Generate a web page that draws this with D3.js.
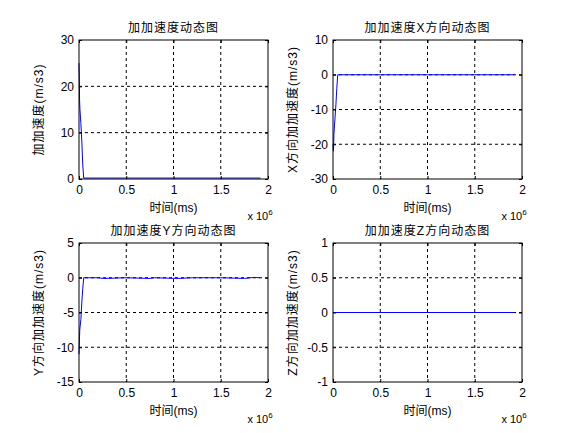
<!DOCTYPE html>
<html><head><meta charset="utf-8">
<script src="https://cdn.jsdelivr.net/npm/d3@7"></script>
<style>body{margin:0;background:#fff}text{font-family:"Liberation Sans",Arial,"Noto Sans CJK SC",sans-serif}</style>
</head><body><div id="chart"></div>
<script>
// time in units of 1e6 ms
const jerkTotal = [[0,25],[0.003,22],[0.006,17],[0.01,15],[0.02,12],[0.03,8],[0.04,3],[0.05,0.2],[0.5,0.2],[1,0.2],[1.5,0.2],[1.92,0.2]];
const jerkX = [[0,-20],[0.005,-22],[0.01,-17],[0.02,-13],[0.03,-9],[0.04,-4],[0.05,0],[0.5,0],[1,0],[1.5,0],[1.92,0]];
const jerkY = [[0,-11],[0.008,-7.5],[0.02,-6],[0.03,-3.5],[0.04,-1.5],[0.05,0],[0.2,0],[0.26,-0.1],[0.5,0],[0.75,-0.1],[0.8,0],[1.05,-0.1],[1.2,0],[1.5,0],[1.75,-0.1],[1.85,0.05],[1.92,0]];
const jerkZ = [[0,0],[1.92,0]];
const xTicks = [0,0.5,1,1.5,2];

const panels = [
  {title:"加加速度动态图", ylab:"加加速度(m/s3)", data:jerkTotal, dom:[0,30], ticks:[0,10,20,30], x:79, y:40},
  {title:"加加速度X方向动态图", ylab:"X方向加加速度(m/s3)", data:jerkX, dom:[-30,10], ticks:[-30,-20,-10,0,10], x:333, y:40},
  {title:"加加速度Y方向动态图", ylab:"Y方向加加速度(m/s3)", data:jerkY, dom:[-15,5], ticks:[-15,-10,-5,0,5], x:79, y:243},
  {title:"加加速度Z方向动态图", ylab:"Z方向加加速度(m/s3)", data:jerkZ, dom:[-1,1], ticks:[-1,-0.5,0,0.5,1], x:333, y:243}
];
const W = 189, H = 139;

const svg = d3.select("#chart").append("svg").attr("width",581).attr("height",433);

panels.forEach(p => {
  const g = svg.append("g").attr("transform",`translate(${p.x},${p.y})`);
  const x = d3.scaleLinear().domain([0,2]).range([0,W]);
  const y = d3.scaleLinear().domain(p.dom).range([H,0]);

  // grid
  xTicks.slice(1,-1).forEach(t => g.append("line").attr("x1",x(t)).attr("x2",x(t)).attr("y1",0).attr("y2",H)
    .attr("stroke","#000").attr("stroke-dasharray","3,3"));
  p.ticks.slice(1,-1).forEach(t => g.append("line").attr("x1",0).attr("x2",W).attr("y1",y(t)).attr("y2",y(t))
    .attr("stroke","#000").attr("stroke-dasharray","3,3"));

  g.append("path").datum(p.data).attr("fill","none").attr("stroke","#0000ff").attr("stroke-width",1)
    .attr("d", d3.line().x(d=>x(d[0])).y(d=>y(d[1])));

  g.append("rect").attr("width",W).attr("height",H).attr("fill","none").attr("stroke","#000");

  g.append("g").attr("transform",`translate(0,${H})`)
    .call(d3.axisBottom(x).tickValues(xTicks).tickSize(-3).tickPadding(6).tickFormat(d=>String(d)))
    .call(a=>{a.select(".domain").remove();a.selectAll("text").attr("font-size",12).attr("fill","#000");});
  g.append("g")
    .call(d3.axisLeft(y).tickValues(p.ticks).tickSize(-3).tickPadding(5).tickFormat(d=>String(d)))
    .call(a=>{a.select(".domain").remove();a.selectAll("text").attr("font-size",12).attr("fill","#000");});
  g.append("g").attr("transform",`translate(${W},0)`)
    .call(d3.axisRight(y).tickValues(p.ticks).tickSize(-3).tickFormat(""))
    .call(a=>a.select(".domain").remove());
  g.append("g")
    .call(d3.axisTop(x).tickValues(xTicks).tickSize(-3).tickFormat(""))
    .call(a=>a.select(".domain").remove());

  g.append("text").attr("x",W/2).attr("y",-8).attr("text-anchor","middle").attr("font-size",12).attr("letter-spacing",1).text(p.title);
  g.append("text").attr("x",W/2).attr("y",H+33).attr("text-anchor","middle").attr("font-size",12).text("时间(ms)");
  const xl = g.append("text").attr("x",W-8).attr("y",H+41).attr("text-anchor","middle").attr("font-size",11);
  xl.append("tspan").text("x 10");
  xl.append("tspan").attr("dy",-5).attr("font-size",8).text("6");
  g.append("text").attr("transform",`translate(-36,${H/2}) rotate(-90)`).attr("text-anchor","middle")
    .attr("font-size",12).attr("letter-spacing",1).text(p.ylab);
});
</script></body></html>
